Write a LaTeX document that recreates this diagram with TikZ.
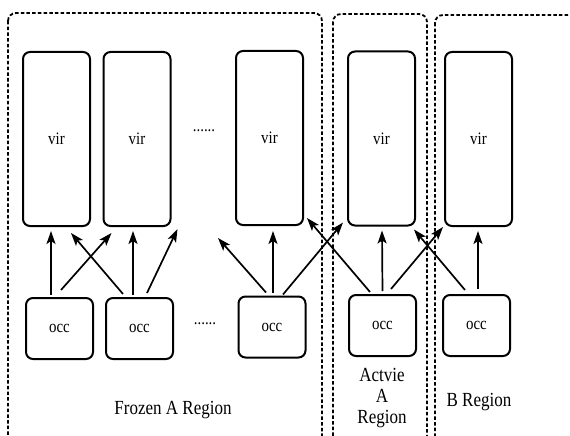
\documentclass[tikz,border=0pt]{standalone}
\usepackage{fontspec}
\usepackage{graphicx}
\setmainfont{Liberation Serif}
\newcommand{\narrowtxt}[1]{\scalebox{0.85}[1]{#1}}
\usetikzlibrary{arrows.meta}
\begin{document}
\begin{tikzpicture}[x=1pt,y=-1pt,
  virbox/.style={draw,line width=2pt,rounded corners=7pt,minimum width=67pt,minimum height=174pt,inner sep=0pt,font=\fontsize{17.5}{20}\selectfont},
  occbox/.style={draw,line width=2pt,rounded corners=7pt,minimum width=67pt,minimum height=61pt,inner sep=0pt,font=\fontsize{17.5}{20}\selectfont},
  region/.style={draw,line width=1.8pt,dash pattern=on 3.5pt off 2.2pt,rounded corners=8pt},
  arr/.style={line width=1.7pt,-{Stealth[length=13pt,width=9pt,inset=3pt]}},
  lbl/.style={font=\fontsize{20}{21}\selectfont,align=center,inner sep=0pt},
  dots/.style={font=\fontsize{17.5}{20}\selectfont,inner sep=0pt}]
\useasboundingbox (0,0) rectangle (570,436);
\begin{scope}
\clip (0,0) rectangle (570,436);
\draw[region] (8,13) rectangle (322,446);
\draw[region] (333,14) rectangle (427,446);
\draw[region] (435,15) rectangle (590,446);
\end{scope}
% vir boxes
\node[virbox] (vir1) at (56.5,139) {\narrowtxt{vir}};
\node[virbox] (vir2) at (137,139) {\narrowtxt{vir}};
\node[virbox] (vir3) at (269.5,138) {\narrowtxt{vir}};
\node[virbox] (vir4) at (381.5,138.5) {\narrowtxt{vir}};
\node[virbox] (vir5) at (478.5,139) {\narrowtxt{vir}};
% occ boxes
\node[occbox] (occ1) at (59.5,328.5) {\narrowtxt{occ}};
\node[occbox] (occ2) at (139.5,328.5) {\narrowtxt{occ}};
\node[occbox] (occ3) at (272,327) {\narrowtxt{occ}};
\node[occbox] (occ4) at (382.5,325.5) {\narrowtxt{occ}};
\node[occbox] (occ5) at (476.5,325.5) {\narrowtxt{occ}};
% dots
\node[dots] (d1) at (204,131) {\narrowtxt{......}};
\node[dots] (d2) at (205,324) {\narrowtxt{......}};
% arrows
\draw[arr] ([xshift=-8.5pt,yshift=2pt]occ1.north) -- ([xshift=-5.5pt,yshift=-4pt]vir1.south);
\draw[arr] ([xshift=1.5pt,yshift=7pt]occ1.north) -- ([xshift=9pt,yshift=-6pt]vir2.south west);
\draw[arr] ([xshift=-16.5pt,yshift=3pt]occ2.north) -- ([xshift=14.5pt,yshift=-6pt]vir1.south);
\draw[arr] ([xshift=-6.5pt,yshift=2pt]occ2.north) -- ([xshift=-4pt,yshift=-4pt]vir2.south);
\draw[arr] ([xshift=7.5pt,yshift=4pt]occ2.north) -- ([xshift=6pt,yshift=-2pt]vir2.south east);
\draw[arr] ([xshift=-6pt,yshift=3pt]occ3.north) -- ([xshift=-17pt,yshift=-12pt]vir3.south west);
\draw[arr] ([xshift=1pt,yshift=3pt]occ3.north) -- ([xshift=3.5pt,yshift=-5pt]vir3.south);
\draw[arr] ([xshift=11pt,yshift=1pt]occ3.north) -- ([xshift=-4pt,yshift=4pt]vir4.south west);
\draw[arr] ([xshift=-12.5pt,yshift=2pt]occ4.north) -- ([xshift=3pt,yshift=8pt]vir3.south east);
\draw[arr] ([xshift=0pt,yshift=3pt]occ4.north) -- ([xshift=0.5pt,yshift=-4pt]vir4.south);
\draw[arr] ([xshift=8.5pt,yshift=5pt]occ4.north) -- ([xshift=-1pt,yshift=0pt]vir5.south west);
\draw[arr] ([xshift=-11.5pt,yshift=4pt]occ5.north) -- ([xshift=-2pt,yshift=-3pt]vir4.south east);
\draw[arr] ([xshift=1.5pt,yshift=5pt]occ5.north) -- ([xshift=-0.5pt,yshift=-4pt]vir5.south);
% labels
\node[lbl] (lfrozen) at (173,410) {\narrowtxt{Frozen A Region}};
\node[lbl] (lactive) at (382,398) {\narrowtxt{Actvie}\\\narrowtxt{A}\\\narrowtxt{Region}};
\node[lbl] (lb) at (479,402) {\narrowtxt{B Region}};
\end{tikzpicture}
\end{document}
